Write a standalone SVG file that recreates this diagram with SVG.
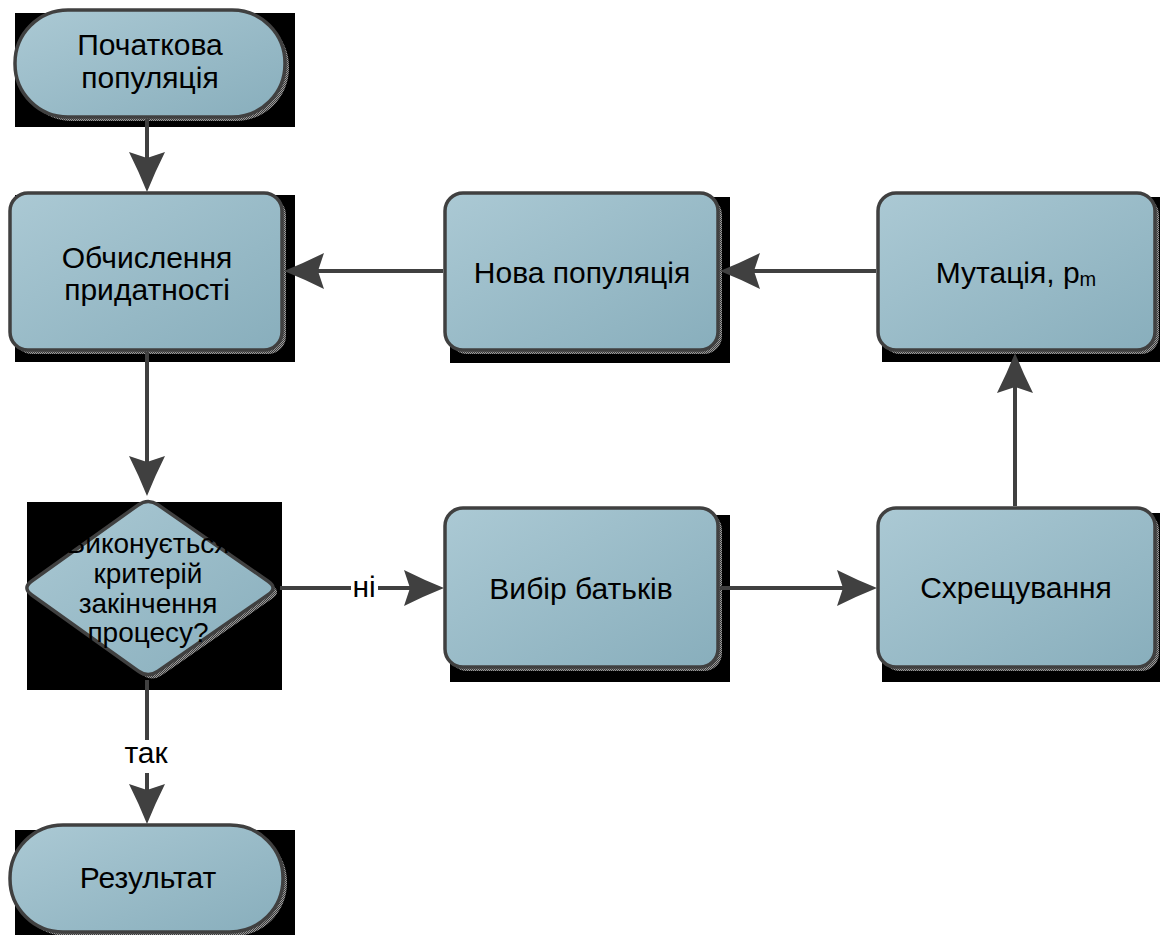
<svg xmlns="http://www.w3.org/2000/svg" width="1163" height="935" viewBox="0 0 1163 935">
  <style>
    .bg { fill: #000000; }
    .shape { fill: url(#nodeGrad); stroke: #404040; stroke-width: 3.5; stroke-linejoin: round; }
    .shadow { fill: url(#dither); }
    .lbl { font-family: "Liberation Sans", Arial, sans-serif; font-size: 30px; fill: #000000; text-anchor: middle; }
    .dlbl { font-family: "Liberation Sans", Arial, sans-serif; font-size: 28px; fill: #000000; text-anchor: middle; }
    .conn { fill: none; stroke: #404040; stroke-width: 4; marker-end: url(#arrow); }
    .plain { fill: none; stroke: #404040; stroke-width: 4; }
    .lblbg { fill: #ffffff; }
  </style>
  <defs>
    <linearGradient id="nodeGrad" x1="0" y1="0" x2="1" y2="1">
      <stop offset="0" stop-color="#abc9d4"/>
      <stop offset="1" stop-color="#88aebc"/>
    </linearGradient>
    <pattern id="dither" patternUnits="userSpaceOnUse" width="2" height="2">
      <rect x="0" y="0" width="2" height="2" fill="#9a9a9a"/>
      <rect x="0" y="0" width="1" height="1" fill="#3c3c3c"/>
      <rect x="1" y="1" width="1" height="1" fill="#3c3c3c"/>
    </pattern>
    <marker id="arrow" markerUnits="userSpaceOnUse" viewBox="0 -20 42 40" markerWidth="42" markerHeight="40" refX="20" refY="0" orient="auto">
      <path d="M0,-18 Q20,-8 40,0 Q20,8 0,18 L6,0 Z" fill="#404040"/>
    </marker>
  </defs>

  <!-- Start -->
  <g id="node-start">
    <rect class="bg" x="15" y="13" width="280" height="114"/>
    <rect class="shadow" x="19" y="14" width="270" height="107" rx="53" ry="53"/>
    <rect class="shape" x="15" y="10" width="270" height="107" rx="53" ry="53"/>
    <text class="lbl" x="150" y="55">Початкова</text>
    <text class="lbl" x="150" y="88">популяція</text>
  </g>

  <!-- Fitness -->
  <g id="node-fitness">
    <rect class="bg" x="15" y="195" width="280" height="167"/>
    <rect class="shadow" x="14" y="197" width="272" height="157" rx="18" ry="18"/>
    <rect class="shape" x="10" y="193" width="272" height="157" rx="18" ry="18"/>
    <text class="lbl" x="147" y="268">Обчислення</text>
    <text class="lbl" x="147" y="300">придатності</text>
  </g>

  <!-- New population -->
  <g id="node-newpop">
    <rect class="bg" x="450" y="197" width="280" height="166"/>
    <rect class="shadow" x="449" y="197" width="273" height="157" rx="18" ry="18"/>
    <rect class="shape" x="445" y="193" width="273" height="157" rx="18" ry="18"/>
    <text class="lbl" x="582" y="283">Нова популяція</text>
  </g>

  <!-- Mutation -->
  <g id="node-mutation">
    <rect class="bg" x="882" y="197" width="278" height="165"/>
    <rect class="shadow" x="882" y="197" width="277" height="157" rx="18" ry="18"/>
    <rect class="shape" x="878" y="193" width="277" height="157" rx="18" ry="18"/>
    <text class="lbl" x="1016" y="283">Мутація, p<tspan font-size="20" dy="3">m</tspan></text>
  </g>

  <!-- Decision -->
  <g id="node-decision">
    <rect class="bg" x="27" y="502" width="255" height="188"/>
    <path class="shadow" transform="translate(4,4)" d="M157.9,504.8 L268.1,581.2 Q278,588 268.1,594.8 L157.9,671.2 Q148,678 138.2,671 L31.8,595 Q22,588 31.8,581 L138.2,505 Q148,498 157.9,504.8 Z"/>
    <path class="shape" d="M157.9,504.8 L268.1,581.2 Q278,588 268.1,594.8 L157.9,671.2 Q148,678 138.2,671 L31.8,595 Q22,588 31.8,581 L138.2,505 Q148,498 157.9,504.8 Z"/>
    <text class="dlbl" x="148" y="553">Виконується</text>
    <text class="dlbl" x="148" y="583">критерій</text>
    <text class="dlbl" x="148" y="613">закінчення</text>
    <text class="dlbl" x="148" y="642">процесу?</text>
  </g>

  <!-- Parent selection -->
  <g id="node-selection">
    <rect class="bg" x="450" y="515" width="280" height="167"/>
    <rect class="shadow" x="449" y="512" width="273" height="159" rx="18" ry="18"/>
    <rect class="shape" x="445" y="508" width="273" height="159" rx="18" ry="18"/>
    <text class="lbl" x="581" y="599">Вибір батьків</text>
  </g>

  <!-- Crossover -->
  <g id="node-crossover">
    <rect class="bg" x="882" y="513" width="278" height="169"/>
    <rect class="shadow" x="882" y="512" width="277" height="159" rx="18" ry="18"/>
    <rect class="shape" x="878" y="508" width="277" height="159" rx="18" ry="18"/>
    <text class="lbl" x="1016" y="598">Схрещування</text>
  </g>

  <!-- Result -->
  <g id="node-result">
    <rect class="bg" x="15" y="830" width="280" height="105"/>
    <rect class="shadow" x="14" y="829" width="273" height="107" rx="53" ry="53"/>
    <rect class="shape" x="10" y="825" width="273" height="107" rx="53" ry="53"/>
    <text class="lbl" x="148" y="888">Результат</text>
  </g>

  <!-- Connectors -->
  <g id="connectors">
    <path class="conn" d="M147,119 L147,172"/>
    <path class="conn" d="M147,352 L147,476"/>
    <path class="conn" d="M280,588 L424,588"/>
    <path class="conn" d="M720,588 L857,588"/>
    <path class="conn" d="M1015,506 L1015,373"/>
    <path class="conn" d="M876,271 L740,271"/>
    <path class="conn" d="M443,271 L304,271"/>
    <path class="conn" d="M147,680 L147,804"/>
    <rect class="lblbg" x="351" y="578" width="27" height="22"/>
    <text class="lbl" x="364" y="597">ні</text>
    <rect class="lblbg" x="118" y="740" width="56" height="33"/>
    <text class="lbl" x="146" y="763">так</text>
  </g>
</svg>
